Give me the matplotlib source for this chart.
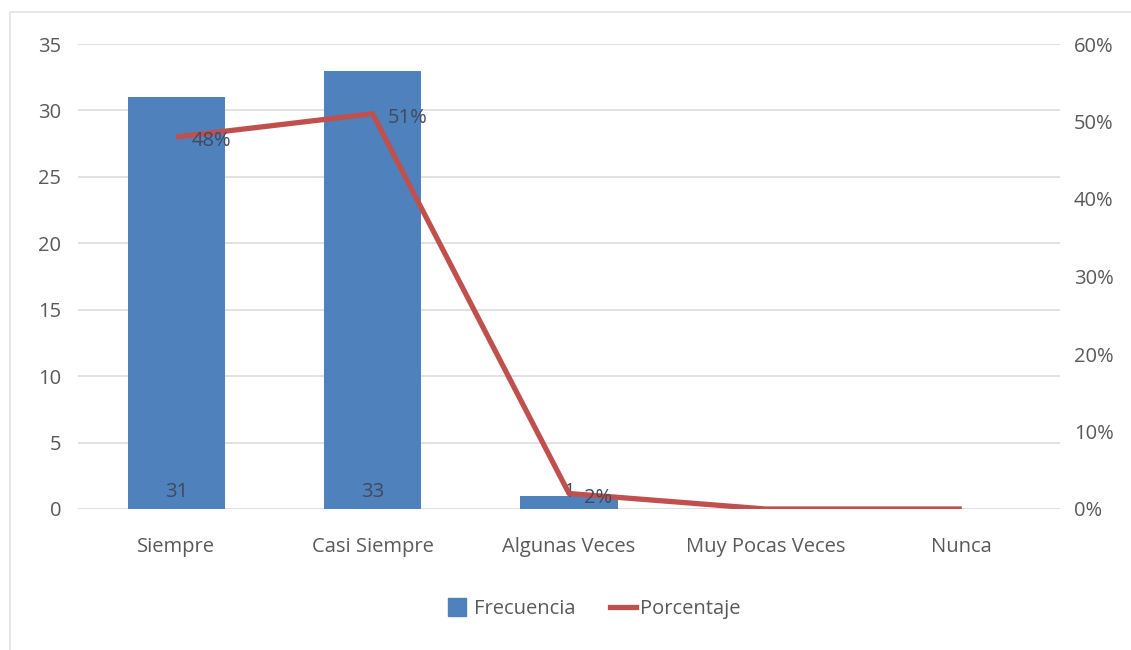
import matplotlib
matplotlib.use("Agg")
import matplotlib.pyplot as plt
from matplotlib.patches import Rectangle
from matplotlib.lines import Line2D
from matplotlib.ticker import FuncFormatter, MultipleLocator

plt.rcParams['font.family'] = ['Open Sans', 'DejaVu Sans']

categorias = ["Siempre", "Casi Siempre", "Algunas Veces", "Muy Pocas Veces", "Nunca"]
frecuencia = [31, 33, 1, 0, 0]
porcentaje = [0.48, 0.51, 0.02, 0.0, 0.0]
etiquetas_pct = ["48%", "51%", "2%", None, None]

AZUL = "#4F81BD"
ROJO = "#C0504D"
GRIS_TXT = "#595959"
GRIS_GRID = "#D9D9D9"
FS = 14.5

fig = plt.figure(figsize=(11.31, 6.5), dpi=100)
W, H = 1131, 650

# light chart-area frame
fig.patches.append(Rectangle((10 / W, -0.05), 1.1, 1 - 12 / H + 0.05,
                             transform=fig.transFigure, fill=False,
                             edgecolor="#E3E3E3", linewidth=1.2))

ax = fig.add_axes([78 / W, 1 - 509 / H, (1060 - 78) / W, (509 - 44) / H])
x = list(range(len(categorias)))

ax.bar(x, frecuencia, width=0.495, color=AZUL, zorder=2)
ax.set_xlim(-0.5, len(categorias) - 0.5)
ax.set_ylim(0, 35)
ax.yaxis.set_major_locator(MultipleLocator(5))
ax.grid(axis="y", color=GRIS_GRID, linewidth=1.1, zorder=0)
ax.set_axisbelow(True)
for s in ax.spines.values():
    s.set_visible(False)
ax.tick_params(axis="both", length=0, colors=GRIS_TXT, labelsize=FS)
ax.tick_params(axis="y", pad=12)
ax.tick_params(axis="x", pad=20)
ax.set_xticks(x)
ax.set_xticklabels(categorias)

# bar value labels at inside base
for xi, v in zip(x, frecuencia):
    if v > 0:
        ax.annotate(str(v), (xi, 0), xytext=(0, 12), textcoords="offset points",
                    ha="center", va="center", fontsize=FS, color="#404A5C", zorder=5)

ax2 = ax.twinx()
ax2.plot(x, porcentaje, color=ROJO, linewidth=3.8, solid_joinstyle="round",
         solid_capstyle="butt", zorder=4)
ax2.set_ylim(0, 0.6)
ax2.yaxis.set_major_locator(MultipleLocator(0.1))
ax2.yaxis.set_major_formatter(FuncFormatter(lambda v, p: f"{v*100:.0f}%"))
for s in ax2.spines.values():
    s.set_visible(False)
ax2.tick_params(axis="y", length=0, colors=GRIS_TXT, labelsize=FS, pad=10)

for xi, v, t in zip(x, porcentaje, etiquetas_pct):
    if t:
        ax2.annotate(t, (xi, v), xytext=(11, -3), textcoords="offset points",
                     ha="left", va="center", fontsize=FS, color="#404A5C", zorder=6)

handles = [Line2D([0], [0], linestyle="none", marker="s", markersize=13,
                  markerfacecolor=AZUL, markeredgecolor=AZUL),
           Line2D([0], [0], color=ROJO, linewidth=3.8)]
fig.legend(handles, ["Frecuencia", "Porcentaje"], loc="center",
           bbox_to_anchor=(592 / W, 1 - 609 / H), ncol=2, frameon=False,
           fontsize=FS, labelcolor=GRIS_TXT, handlelength=1.3,
           handletextpad=0.2, columnspacing=1.7)

fig.savefig("out.png", dpi=100, facecolor="white")
